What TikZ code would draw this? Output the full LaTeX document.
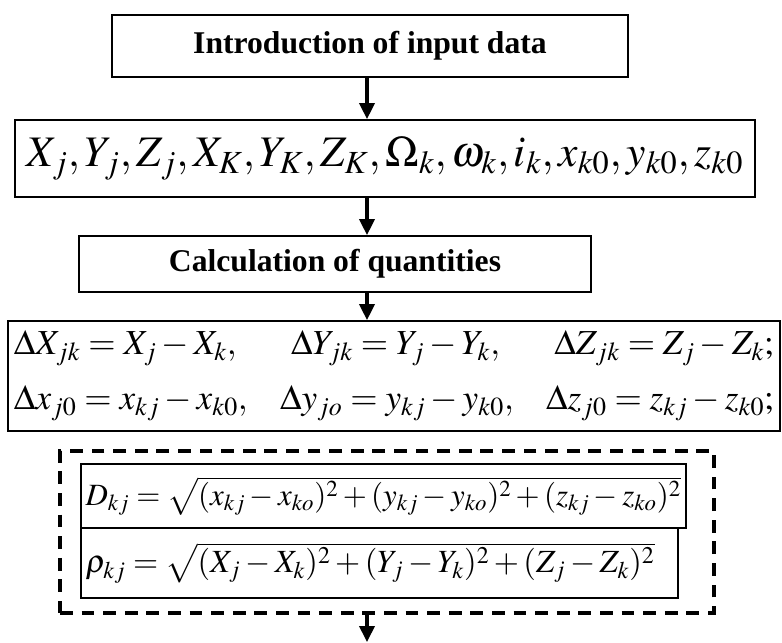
\documentclass[tikz,border=0pt]{standalone}
\usepackage{mathptmx}
\usepackage{fontspec}
\setmainfont{Liberation Serif}
\usetikzlibrary{arrows.meta,positioning}

\begin{document}
\begin{tikzpicture}[
    box/.style={rectangle,draw=black,line width=1.3pt,inner sep=2pt,align=center},
    titlebox/.style={box,font=\fontsize{22.5}{27}\selectfont\bfseries},
    formbox/.style={rectangle,draw=black,line width=1pt,inner sep=2pt,align=left},
    groupbox/.style={rectangle,draw=black,line width=2.6pt,dash pattern=on 3.2mm off 2.2mm},
    arrow/.style={-{Triangle[length=4mm,width=3.8mm]},line width=2.2pt}
  ]
    \useasboundingbox (0,0) rectangle (19.55,-16.05);
    \coordinate (spine) at (9.175,0);
    \node[titlebox,minimum width=12.9cm,minimum height=1.55cm] (intro) at (9.25,-1.15) {Introduction of input data};
    \node[box,minimum width=18.5cm,minimum height=1.925cm,font=\fontsize{31}{37}\selectfont] (inputs) at (9.625,-3.9625)
      {$X_j,Y_j,Z_j,X_K,Y_K,Z_K,\Omega_k,\omega_k,i_k,x_{k0},y_{k0},z_{k0}$};
    \node[titlebox,minimum width=12.8cm,minimum height=1.4cm] (calc) at (8.375,-6.6) {Calculation of quantities};
    \node[box,minimum width=19.3cm,minimum height=2.75cm,text width=19cm,align=left,font=\fontsize{25}{39}\selectfont] (diffs) at (9.85,-9.4)
      {\hbox to\linewidth{$\Delta X_{jk}=X_j-X_k,$\hfill$\Delta Y_{jk}=Y_j-Y_k,$\hfill$\Delta Z_{jk}=Z_j-Z_k;$}\\
       \hbox to\linewidth{$\Delta x_{j0}=x_{kj}-x_{k0},$\hfill$\Delta y_{jo}=y_{kj}-y_{k0},$\hfill$\Delta z_{j0}=z_{kj}-z_{k0};$}};
    \node[groupbox,minimum width=16.35cm,minimum height=4.05cm] (group) at (9.675,-13.3) {};
    \node[formbox,minimum width=15.125cm,minimum height=1.6cm,text width=14.9cm,font=\fontsize{22}{27}\selectfont] (dkj) at (9.5875,-12.4)
      {$D_{kj}=\sqrt{(x_{kj}-x_{ko})^2+(y_{kj}-y_{ko})^2+(z_{kj}-z_{ko})^2}$};
    \node[formbox,minimum width=14.925cm,minimum height=1.75cm,text width=14.7cm,font=\fontsize{23}{28}\selectfont] (rhokj) at (9.4875,-14.075)
      {$\rho_{kj}=\sqrt{(X_j-X_k)^2+(Y_j-Y_k)^2+(Z_j-Z_k)^2}$};
    \coordinate (out) at (9.175,-16.05);
    \draw[arrow] (intro.south -| spine) -- (inputs.north -| spine);
    \draw[arrow] (inputs.south -| spine) -- (calc.north -| spine);
    \draw[arrow] (calc.south -| spine) -- (diffs.north -| spine);
    \draw[arrow] (group.south -| spine) -- (out);
  \end{tikzpicture}
\end{document}
